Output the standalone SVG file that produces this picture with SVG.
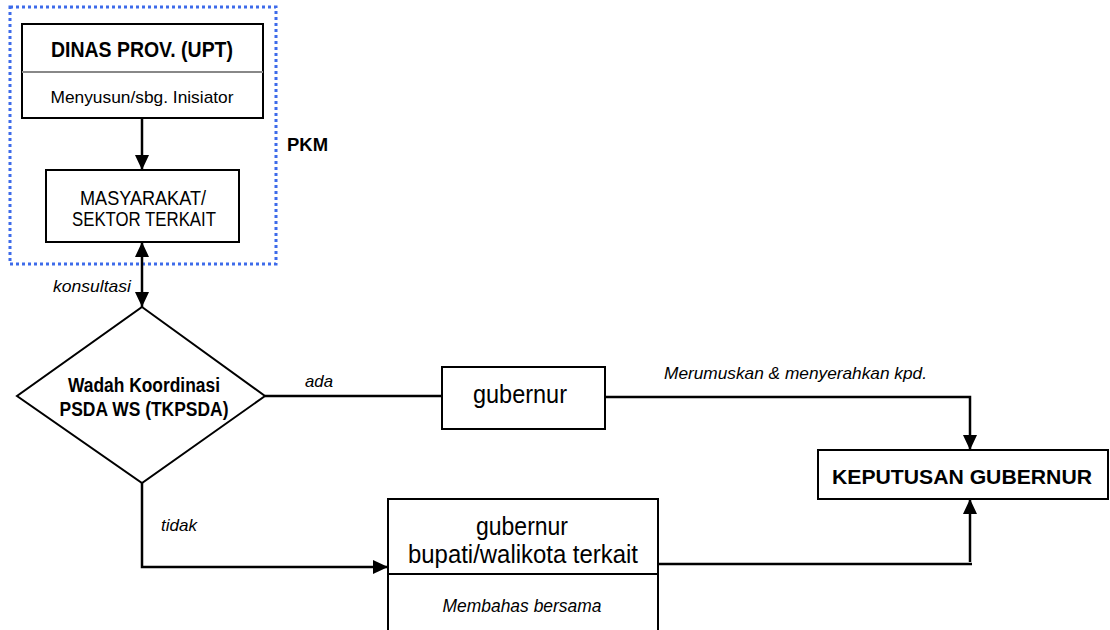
<svg xmlns="http://www.w3.org/2000/svg" width="1110" height="630" viewBox="0 0 1110 630">
<defs>
<marker id="ah" markerUnits="userSpaceOnUse" markerWidth="16" markerHeight="15" refX="15" refY="7" orient="auto-start-reverse">
<path d="M0,0 L15,7 L0,14 z" fill="#000"/>
</marker>
<style>
.box{fill:#fff;stroke:#000;stroke-width:2}
.div{stroke:#000;stroke-width:2}
.ln{fill:none;stroke:#000;stroke-width:2.5}
text{font-family:"Liberation Sans",Arial,sans-serif;fill:#000}
.b{font-weight:bold}
.i{font-style:italic}
.m{text-anchor:middle}
</style>
</defs>
<rect width="1110" height="630" fill="#fff"/>

<g id="pkm-group">
<rect x="10" y="7" width="266" height="257" fill="none" stroke="#3d6bea" stroke-width="3" stroke-dasharray="3 3"/>
<text x="287" y="151" class="b" font-size="18" textLength="41" lengthAdjust="spacingAndGlyphs">PKM</text>
</g>

<g id="dinas">
<rect class="box" x="22" y="24" width="241" height="94"/>
<line x1="22" y1="72" x2="263" y2="72" stroke="#888" stroke-width="2"/>
<text x="142" y="57" class="b m" font-size="22" textLength="182" lengthAdjust="spacingAndGlyphs">DINAS PROV. (UPT)</text>
<text x="142" y="103" class="m" font-size="17" textLength="183" lengthAdjust="spacingAndGlyphs">Menyusun/sbg. Inisiator</text>
</g>

<g id="masyarakat">
<rect class="box" x="46" y="170" width="193" height="72"/>
<text x="143" y="205" class="m" font-size="21" textLength="126" lengthAdjust="spacingAndGlyphs">MASYARAKAT/</text>
<text x="144" y="226" class="m" font-size="21" textLength="144" lengthAdjust="spacingAndGlyphs">SEKTOR TERKAIT</text>
</g>

<g id="wadah">
<polygon points="142,307 265,396 142,483 17,396" fill="#fff" stroke="#000" stroke-width="2"/>
<text x="144" y="392" class="b m" font-size="20" textLength="152" lengthAdjust="spacingAndGlyphs">Wadah Koordinasi</text>
<text x="144" y="416" class="b m" font-size="20" textLength="169" lengthAdjust="spacingAndGlyphs">PSDA WS (TKPSDA)</text>
</g>

<g id="gubernur">
<rect class="box" x="442" y="367" width="163" height="62"/>
<text x="520" y="403" class="m" font-size="25" textLength="94" lengthAdjust="spacingAndGlyphs">gubernur</text>
</g>

<g id="keputusan">
<rect class="box" x="818" y="450" width="290" height="49"/>
<text x="962" y="484" class="b m" font-size="21" textLength="260" lengthAdjust="spacingAndGlyphs">KEPUTUSAN GUBERNUR</text>
</g>

<g id="bersama">
<rect class="box" x="388" y="499" width="270" height="140"/>
<line class="div" x1="388" y1="574" x2="658" y2="574"/>
<text x="522" y="535" class="m" font-size="25" textLength="92" lengthAdjust="spacingAndGlyphs">gubernur</text>
<text x="523" y="563" class="m" font-size="25" textLength="230" lengthAdjust="spacingAndGlyphs">bupati/walikota terkait</text>
<text x="522" y="612" class="i m" font-size="18.5" textLength="159" lengthAdjust="spacingAndGlyphs">Membahas bersama</text>
</g>

<g id="connectors">
<line class="ln" x1="142" y1="118" x2="142" y2="170" marker-end="url(#ah)"/>
<line class="ln" x1="142" y1="242" x2="142" y2="307" marker-start="url(#ah)" marker-end="url(#ah)"/>
<line class="ln" x1="265" y1="396" x2="442" y2="396"/>
<polyline class="ln" points="605,397 970,397 970,450" marker-end="url(#ah)"/>
<polyline class="ln" points="142,483 142,567 388,567" marker-end="url(#ah)"/>
<line class="ln" x1="658" y1="564" x2="972" y2="564"/>
<line class="ln" x1="970" y1="562" x2="970" y2="499" marker-end="url(#ah)"/>
<text x="53" y="292" class="i" font-size="17" textLength="78" lengthAdjust="spacingAndGlyphs">konsultasi</text>
<text x="305" y="387" class="i" font-size="17" textLength="28" lengthAdjust="spacingAndGlyphs">ada</text>
<text x="664" y="379" class="i" font-size="17" textLength="263" lengthAdjust="spacingAndGlyphs">Merumuskan &amp; menyerahkan kpd.</text>
<text x="161" y="531" class="i" font-size="17" textLength="36" lengthAdjust="spacingAndGlyphs">tidak</text>
</g>
</svg>
